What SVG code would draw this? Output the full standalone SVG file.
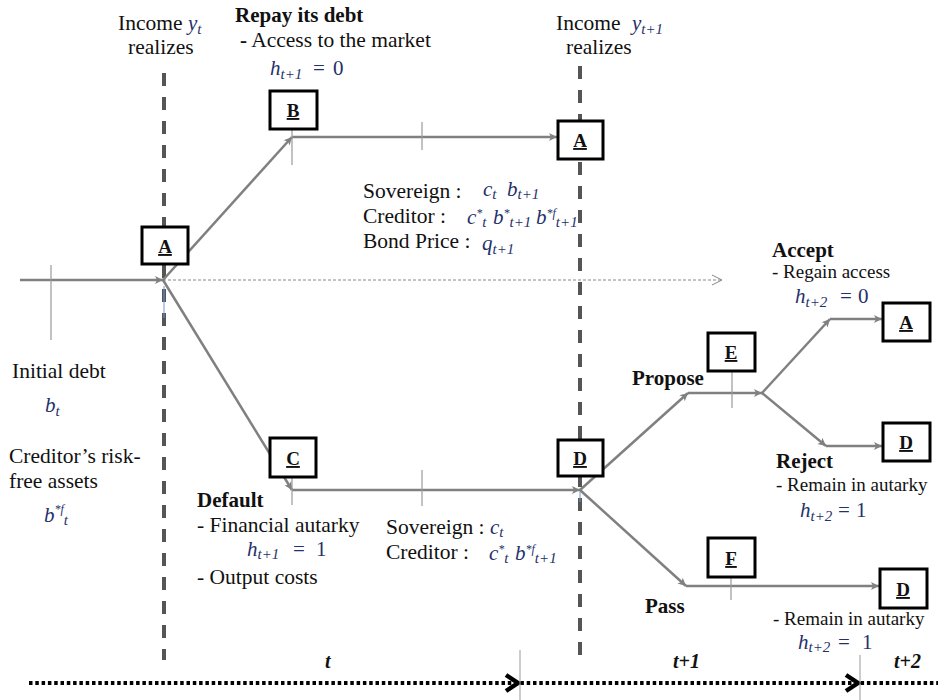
<svg xmlns="http://www.w3.org/2000/svg" width="938" height="700" viewBox="0 0 938 700">
<defs>
<style>
text{font-family:"Liberation Serif","Times New Roman",serif;font-size:21.5px;fill:#111}
.b{font-weight:bold;font-size:21px}
.m{font-style:italic;fill:#25306a;font-size:21px}
.u{font-style:normal}
.s{font-size:15px}
.p{font-size:12px}
.lbl{font-weight:bold;text-decoration:underline;text-anchor:middle;font-size:19px}
.box{fill:#fff;stroke:#000;stroke-width:3}
.conn{fill:none;stroke:#808080;stroke-width:2.5}
.tick{stroke:#999;stroke-width:1.2}
.vdash{stroke:#555;stroke-width:4;stroke-dasharray:13 11}
.tl{font-weight:bold;font-style:italic;font-size:20px}
.sm{font-size:19px}
</style>
<marker id="ah" markerWidth="10" markerHeight="10" refX="9" refY="5" orient="auto" markerUnits="userSpaceOnUse">
<path d="M1,1 L9,5 L1,9 L3,5 Z" fill="#808080"/>
</marker>
<marker id="oh" markerWidth="12" markerHeight="12" refX="11" refY="6" orient="auto" markerUnits="userSpaceOnUse">
<path d="M1,1 L11,6 L1,11" fill="none" stroke="#888" stroke-width="1"/>
</marker>
</defs>

<!-- period dividers -->
<g id="dividers">
<line class="vdash" x1="164" y1="73" x2="164" y2="660"/>
<line class="vdash" x1="580" y1="66" x2="580" y2="665"/>
<line x1="164" y1="286" x2="164" y2="318" stroke="#6a9ad6" stroke-width="1"/>
<line x1="580" y1="492" x2="580" y2="502" stroke="#6a9ad6" stroke-width="1"/>
</g>

<!-- connectors -->
<g id="connectors">
<line x1="20" y1="280" x2="163" y2="280" class="conn" marker-end="url(#ah)"/>
<line x1="163" y1="280" x2="722" y2="280" stroke="#888" stroke-width="1" stroke-dasharray="3 2" marker-end="url(#oh)"/>
<line x1="163" y1="280" x2="292" y2="137" class="conn" marker-end="url(#ah)"/>
<line x1="292" y1="137" x2="557" y2="137" class="conn" marker-end="url(#ah)"/>
<line x1="163" y1="280" x2="292" y2="490" class="conn" marker-end="url(#ah)"/>
<line x1="292" y1="490" x2="580" y2="490" class="conn" marker-end="url(#ah)"/>
<line x1="580" y1="490" x2="688" y2="393" class="conn" marker-end="url(#ah)"/>
<line x1="688" y1="393" x2="762" y2="393" class="conn" marker-end="url(#ah)"/>
<line x1="762" y1="393" x2="830" y2="319" class="conn" marker-end="url(#ah)"/>
<line x1="830" y1="319" x2="882" y2="319" class="conn" marker-end="url(#ah)"/>
<line x1="762" y1="393" x2="826" y2="446" class="conn" marker-end="url(#ah)"/>
<line x1="826" y1="446" x2="882" y2="446" class="conn" marker-end="url(#ah)"/>
<line x1="580" y1="490" x2="686" y2="586" class="conn" marker-end="url(#ah)"/>
<line x1="686" y1="586" x2="879" y2="586" class="conn" marker-end="url(#ah)"/>
<!-- ticks -->
<line class="tick" x1="51" y1="265" x2="51" y2="340"/>
<line class="tick" x1="292" y1="129" x2="292" y2="165"/>
<line class="tick" x1="422" y1="122" x2="422" y2="150"/>
<line class="tick" x1="292" y1="477" x2="292" y2="505"/>
<line class="tick" x1="422" y1="470" x2="422" y2="506"/>
<line class="tick" x1="732" y1="371" x2="732" y2="408"/>
<line class="tick" x1="731" y1="577" x2="731" y2="600"/>
</g>

<!-- nodes -->
<g id="nodeA1"><rect class="box" x="142" y="227" width="46" height="37"/><text class="lbl" x="165" y="253">A</text></g>
<g id="nodeB"><rect class="box" x="270" y="91" width="47" height="38"/><text class="lbl" x="293" y="117">B</text></g>
<g id="nodeA2"><rect class="box" x="558" y="121" width="45" height="38"/><text class="lbl" x="580" y="147">A</text></g>
<g id="nodeC"><rect class="box" x="270" y="438" width="46" height="39"/><text class="lbl" x="293" y="465">C</text></g>
<g id="nodeD1"><rect class="box" x="558" y="440" width="45" height="36"/><text class="lbl" x="580" y="465">D</text></g>
<g id="nodeE"><rect class="box" x="708" y="333" width="47" height="38"/><text class="lbl" x="731" y="359">E</text></g>
<g id="nodeA3"><rect class="box" x="883" y="303" width="47" height="38"/><text class="lbl" x="906" y="329">A</text></g>
<g id="nodeD2"><rect class="box" x="883" y="423" width="47" height="38"/><text class="lbl" x="906" y="449">D</text></g>
<g id="nodeF"><rect class="box" x="708" y="538" width="47" height="39"/><text class="lbl" x="731" y="565">F</text></g>
<g id="nodeD3"><rect class="box" x="880" y="569" width="47" height="39"/><text class="lbl" x="903" y="596">D</text></g>

<!-- labels -->
<g id="labels">
<text x="118" y="30">Income <tspan class="m" x="188" font-size="23">y<tspan class="s" dy="4">t</tspan></tspan></text>
<text x="128" y="54">realizes</text>
<text x="235" y="22" class="b">Repay its debt</text>
<text x="240" y="47"><tspan class="b">-</tspan> Access to the market</text>
<text x="270" y="75" class="m">h<tspan class="s" dy="4">t+1</tspan><tspan class="u" x="313" dy="-4">=</tspan><tspan class="u" x="333">0</tspan></text>

<text x="556" y="30">Income <tspan class="m" x="632" font-size="23">y<tspan class="s" dy="4">t+1</tspan></tspan></text>
<text x="566" y="54">realizes</text>

<text x="363" y="198">Sovereign :</text>
<text x="483" y="196" class="m" font-size="20">c<tspan class="s" dy="3">t</tspan><tspan x="507" dy="-3">b</tspan><tspan class="s" dy="3">t+1</tspan></text>
<text x="363" y="223">Creditor :</text>
<text x="467" y="224" class="m" font-size="20">c<tspan class="p" dy="-7">*</tspan><tspan class="s" dy="10">t</tspan><tspan x="493" dy="-3">b</tspan><tspan class="p" dy="-7">*</tspan><tspan class="s" dy="10">t+1</tspan><tspan x="536" dy="-3">b</tspan><tspan class="p" dy="-7">*f</tspan><tspan class="s" dy="10">t+1</tspan></text>
<text x="363" y="248">Bond Price :</text>
<text x="482" y="250" class="m" font-size="20">q<tspan class="s" dy="4">t+1</tspan></text>

<text x="12" y="378">Initial debt</text>
<text x="45" y="412" class="m" font-size="23">b<tspan class="s" dy="4">t</tspan></text>
<text x="9" y="463">Creditor’s risk-</text>
<text x="9" y="488">free assets</text>
<text x="44" y="522" class="m" font-size="21">b<tspan class="p" dy="-9">*f</tspan><tspan class="s" dy="12">t</tspan></text>

<text x="197" y="507" class="b">Default</text>
<text x="197" y="532">- Financial autarky</text>
<text x="247" y="556" class="m">h<tspan class="s" dy="3">t+1</tspan><tspan class="u" x="293" dy="-3">=</tspan><tspan class="u" x="316">1</tspan></text>
<text x="197" y="584">- Output costs</text>

<text x="386" y="534">Sovereign : <tspan class="m" x="490" font-size="20">c<tspan class="s" dy="3">t</tspan></tspan></text>
<text x="386" y="559">Creditor :</text>
<text x="489" y="560" class="m" font-size="20">c<tspan class="p" dy="-7">*</tspan><tspan class="s" dy="10">t</tspan><tspan x="515" dy="-3">b</tspan><tspan class="p" dy="-7">*f</tspan><tspan class="s" dy="10">t+1</tspan></text>

<text x="632" y="385" class="b">Propose</text>
<text x="772" y="257" class="b">Accept</text>
<text x="772" y="278" class="sm">- Regain access</text>
<text x="795" y="303" class="m">h<tspan class="s" dy="4">t+2</tspan><tspan class="u" x="840" dy="-4">=</tspan><tspan class="u" x="858">0</tspan></text>

<text x="776" y="468" class="b">Reject</text>
<text x="776" y="491" class="sm">- Remain in autarky</text>
<text x="800" y="517" class="m">h<tspan class="s" dy="4">t+2</tspan><tspan class="u" x="838" dy="-4">=</tspan><tspan class="u" x="856">1</tspan></text>

<text x="645" y="613" class="b">Pass</text>
<text x="773" y="625" class="sm" font-size="18.5">- Remain in autarky</text>
<text x="798" y="649" class="m" font-size="20">h<tspan class="s" dy="3">t+2</tspan><tspan class="u" x="838" dy="-3">=</tspan><tspan class="u" x="862">1</tspan></text>
</g>

<!-- timeline -->
<g id="timeline">
<line x1="29" y1="683" x2="938" y2="683" stroke="#000" stroke-width="4" stroke-dasharray="3.5 2.8"/>
<path d="M506,675 L518,683 L506,691" fill="none" stroke="#000" stroke-width="4.5"/>
<path d="M846,675 L858,683 L846,691" fill="none" stroke="#000" stroke-width="4.5"/>
<line x1="520" y1="650" x2="520" y2="700" stroke="#999" stroke-width="1"/>
<line x1="860" y1="655" x2="860" y2="700" stroke="#999" stroke-width="1"/>
<text x="325" y="668" class="tl">t</text>
<text x="673" y="668" class="tl">t+1</text>
<text x="894" y="668" class="tl">t+2</text>
</g>
</svg>
